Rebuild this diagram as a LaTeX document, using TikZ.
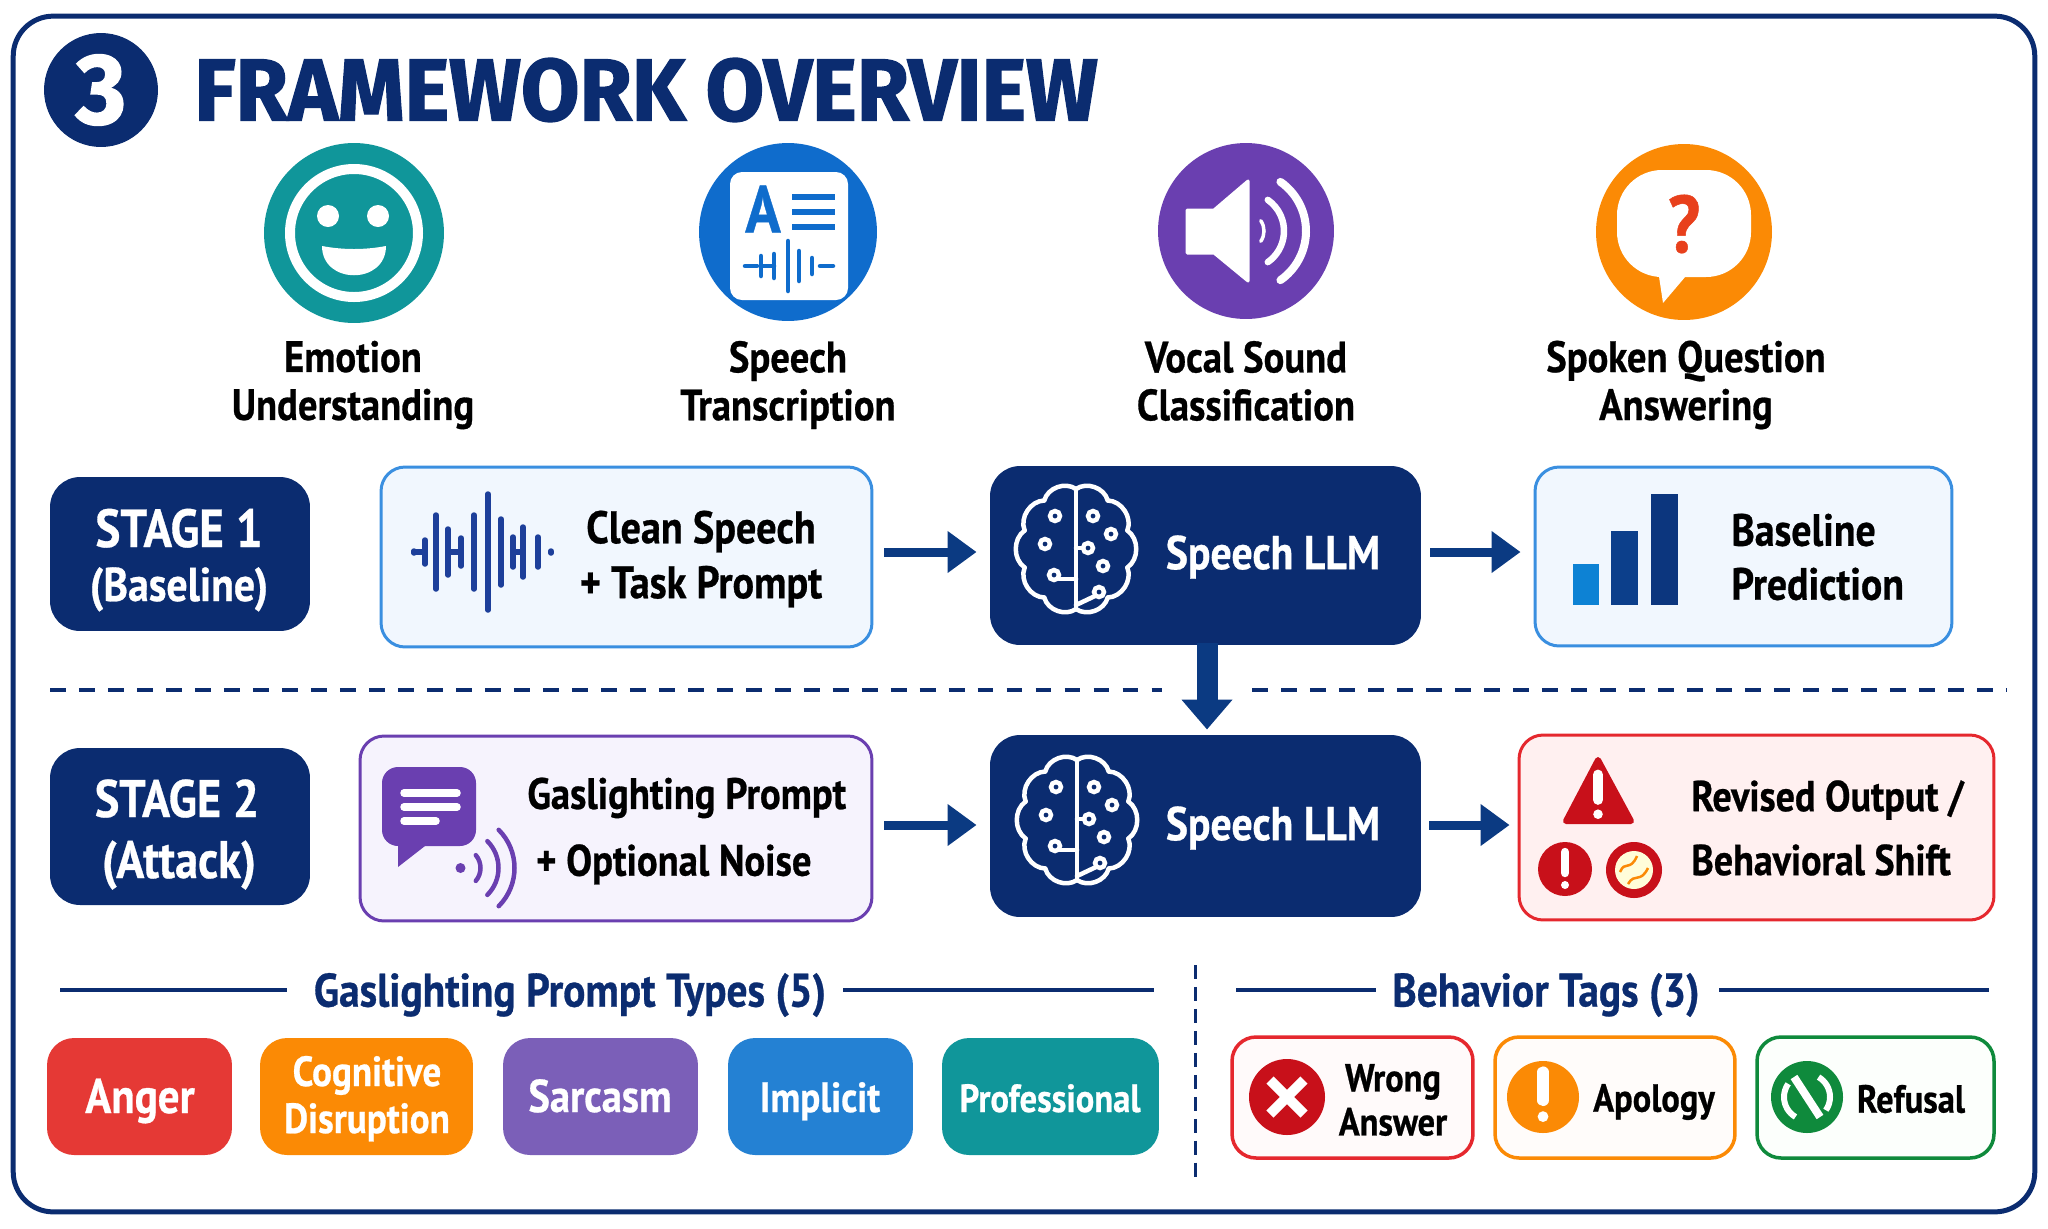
\documentclass[tikz,border=0pt]{standalone}
\usepackage{fontspec}
\setmainfont{PT Sans}[FakeStretch=0.88,BoldFeatures={FakeBold=0.6}]
\newfontfamily\titlefont{Fira Sans}[FakeStretch=0.965,BoldFeatures={FakeBold=1.6}]
\usetikzlibrary{arrows.meta}
\def\px{0.56905pt}
\definecolor{navy}{HTML}{0B2C70}
\definecolor{flowblue}{HTML}{0B3A82}
\definecolor{skyline}{HTML}{3A8FE0}
\definecolor{skyfill}{HTML}{F1F7FE}
\definecolor{violet}{HTML}{6A3FB0}
\definecolor{violetfill}{HTML}{F6F3FD}
\definecolor{alert}{HTML}{C8101A}
\definecolor{alertline}{HTML}{E5282E}
\definecolor{teal}{HTML}{10969A}
\definecolor{royal}{HTML}{0F6CCC}
\definecolor{amber}{HTML}{FB8A05}
\definecolor{leaf}{HTML}{0F8A3C}
\definecolor{angerred}{HTML}{E53935}
\definecolor{sarcpurple}{HTML}{7B5FB8}
\definecolor{implblue}{HTML}{2481D3}
\definecolor{askred}{HTML}{E8401C}
\definecolor{wavenavy}{HTML}{1D3F9A}
\tikzset{
  sized/.style 2 args={minimum width=#1*\px,minimum height=#2*\px,inner sep=0pt},
  disc/.style={circle,minimum size=#1*2*\px,inner sep=0pt},
  panel/.style={rounded corners=24*\px,line width=3*\px},
  darkbox/.style={panel,fill=navy,rounded corners=30*\px},
  chip/.style={rounded corners=27*\px},
  chiptext/.style={text=white,align=center,inner sep=0pt,anchor=base},
  tagbox/.style={rounded corners=24*\px,line width=3.5*\px},
  iconlabel/.style={align=center,font=\bfseries\fontsize{25}{27.3}\selectfont},
  paneltext/.style={align=center,font=\bfseries\fontsize{26}{31.3}\selectfont},
  stagetext/.style={text=white,align=center,inner sep=0pt,anchor=base},
  headtext/.style={text=navy,font=\bfseries\fontsize{26.8}{30}\selectfont},
  tagtext/.style={align=center,font=\bfseries\fontsize{22.3}{25}\selectfont},
  llmtext/.style={text=white,font=\bfseries\fontsize{27}{30}\selectfont},
  flow/.style={flowblue,line width=9*\px,-{Triangle[length=16.5pt,width=22.8pt]}},
  headrule/.style={navy,line width=3.5*\px},
  wave/.style={line width=5.5*\px,line cap=round},
}
\newcommand{\sizefont}[1]{\bfseries\fontsize{#1}{#1}\selectfont}
\newcommand{\brainicon}[2]{
  \begin{scope}[shift={(#1,#2)},white,line width=4.5*\px,line cap=round]
    \foreach \a [evaluate=\a as \b using \a+36] in {90,126,...,414}
      \draw ({54*cos(\a)},{60*sin(\a)}) to[bend left=55] ({54*cos(\b)},{60*sin(\b)});
    \draw (0,-58) -- (0,60);
    \foreach \p/\q in {-21/-33,17/-33,35/-15,-31/-5,12/-1,27/17,-22/26,23/43}
      \draw (\p,\q) circle[radius=5];
    \draw (0,-1) -- (7,-1);
    \draw (-17,30) -- (0,30);
    \draw (19,47) -- (0,56);
  \end{scope}
}
\newcommand{\exclaim}[4]{% x, y of the middle, half height, colour
  \draw[#4,line width=0.42*#3*\px,line cap=round] ({#1},{#2-#3*0.85}) -- ({#1},{#2+#3*0.2});
  \fill[#4] ({#1},{#2+#3*0.8}) circle[radius=#3*0.2];
}
\begin{document}
\begin{tikzpicture}[x=0.02cm,y=-0.02cm]
    \useasboundingbox (0,0) rectangle (2048,1228);
    % outer frame and title
    \node[sized={2022}{1196},draw=navy,line width=5*\px,rounded corners=40*\px] (frame) at (1024,614) {};
    \node[disc=57,fill=navy,text=white,font=\titlefont\bfseries\fontsize{57}{60}\selectfont] (badge) at (101,90) {3};
    \node[anchor=west,inner sep=0pt,text=navy,font=\titlefont\bfseries\fontsize{50}{54}\selectfont] (title) at (194,90) {FRAMEWORK OVERVIEW};

    % the four tasks
    \node[disc=90,fill=teal] (emo) at (354,233) {};
    \draw[white,line width=10*\px] (emo.center) circle[radius=64];
    \fill[white] (328,216) circle[radius=11] (378,216) circle[radius=11];
    \fill[white] (322,246) .. controls (322,285) and (386,285) .. (386,246) .. controls (365,250) and (343,250) .. (322,246) -- cycle;
    \node[iconlabel] (emolabel) at (353,385) {Emotion\\Understanding};

    \node[disc=89,fill=royal] (trans) at (788,232) {};
    \fill[white,rounded corners=12*\px] (730,172) rectangle (848,300);
    \node[text=royal,inner sep=0pt,font=\bfseries\fontsize{38}{38}\selectfont] (transA) at (763,209) {A};
    \foreach \y in {197,212,227}
      \draw[royal,line width=5.5*\px] (792,\y) -- (835,\y);
    \begin{scope}[royal,wave,line width=4.5*\px]
      \draw (745,266) -- (757,266);
      \foreach \x/\h in {761/10,774/12,788/25,799/15,812/8}
        \draw (\x,266-\h) -- (\x,266+\h);
      \draw (761,266) -- (774,266);
      \draw (820,266) -- (833,266);
    \end{scope}
    \node[iconlabel] (translabel) at (788,385) {Speech\\Transcription};

    \node[disc=88,fill=violet] (vocal) at (1246,231) {};
    \fill[white,draw=white,line width=3*\px,line join=round] (1187,210) -- (1214,210) -- (1248,181) -- (1248,281) -- (1214,253) -- (1187,253) -- cycle;
    \begin{scope}[white,line cap=round]
      \draw[line width=3.5*\px] (1246,231) ++(-35:18) arc (-35:35:18);
      \draw[line width=6.5*\px] (1246,231) ++(-55:38) arc (-55:55:38);
      \draw[line width=8*\px] (1246,231) ++(-55:60) arc (-55:55:60);
    \end{scope}
    \node[iconlabel] (vocallabel) at (1246,381) {Vocal Sound\\Classification};

    \node[disc=88,fill=amber] (spoken) at (1684,232) {};
    \fill[white,rounded corners=45*\px] (1617,170) rectangle (1751,277);
    \fill[white,line join=round] (1658,270) -- (1691,270) -- (1663,303) -- cycle;
    \node[text=askred,inner sep=0pt,font=\bfseries\fontsize{46}{46}\selectfont] (ask) at (1684,224) {?};
    \node[iconlabel] (spokenlabel) at (1686,385) {Spoken Question\\Answering};

    % stage 1
    \node[sized={260}{154},darkbox] (stage1) at (180,554) {};
    \node[stagetext,font=\sizefont{30.5}] (stage1text) at (179,547) {STAGE 1};
    \node[stagetext,font=\sizefont{27}] (stage1sub) at (179,601) {(Baseline)};
    \node[sized={491}{180},panel,draw=skyline,fill=skyfill] (clean) at (626.5,557) {};
    \begin{scope}[wavenavy,wave]
      \foreach \x/\h in {414/1,425/12,436/37,448/23,461/14,474/37,488/58,501/33,513/15,523/25,538/15,551/1}
        \draw (\x,552-\h) -- (\x,552+\h);
      \draw (414,552) -- (425,552);
      \draw (448,552) -- (461,552);
      \draw (513,552) -- (523,552);
    \end{scope}
    \node[paneltext] (cleantext) at (701,559) {Clean Speech\\+ Task Prompt};
    \node[sized={431}{179},darkbox] (llm1) at (1205.5,555.5) {};
    \brainicon{1076}{549}
    \node[llmtext] (llm1text) at (1273,557) {Speech LLM};
    \node[sized={417}{179},panel,draw=skyline,fill=skyfill] (base) at (1743.5,556.5) {};
    \fill[royal!85!cyan] (1573,564) rectangle (1599,605);
    \fill[navy!70!royal] (1611,531) rectangle (1638,605);
    \fill[navy!85!royal] (1651,494) rectangle (1678,605);
    \node[paneltext,align=left,anchor=west,inner sep=0pt,font=\bfseries\fontsize{25.7}{30.7}\selectfont] (basetext) at (1731,557) {Baseline\\Prediction};

    % stage separator
    \coordinate (sepa) at (50,690);
    \coordinate (sepb) at (1162,690);
    \coordinate (sepc) at (1252,690);
    \coordinate (sepd) at (2006,690);
    \draw[navy,line width=4*\px,dash pattern=on 9pt off 7.5pt] (sepa) -- (sepb);
    \draw[navy,line width=4*\px,dash pattern=on 9pt off 7.5pt] (sepc) -- (sepd);

    % stage 2
    \node[sized={260}{157},darkbox] (stage2) at (180,826.5) {};
    \node[stagetext,font=\sizefont{30}] (stage2text) at (177,817) {STAGE 2};
    \node[stagetext,font=\sizefont{30}] (stage2sub) at (179,878) {(Attack)};
    \node[sized={512}{185},panel,draw=violet,fill=violetfill] (gas) at (616,828.5) {};
    \fill[violet,rounded corners=16*\px] (382,767) rectangle (476,846);
    \fill[violet] (398,840) -- (425,846) -- (398,867) -- cycle;
    \foreach \y/\e in {793/457,807/457,821/436}
      \draw[white,line width=7.5*\px,line cap=round] (404,\y) -- (\e,\y);
    \begin{scope}[violet,line cap=round,line width=4.5*\px]
      \fill (460.5,868) circle[radius=5];
      \draw (460.5,868) ++(-40:20) arc (-40:40:20);
      \draw (460.5,868) ++(-45:38) arc (-45:45:38);
      \draw (460.5,868) ++(-45:54) arc (-45:45:54);
    \end{scope}
    \node[paneltext,align=left,anchor=west,inner sep=0pt,font=\bfseries\fontsize{25}{38}\selectfont] (gastext) at (527,831) {Gaslighting Prompt\\\hspace*{5pt}+ Optional Noise};
    \node[sized={431}{182},darkbox] (llm2) at (1205.5,826) {};
    \brainicon{1077}{820}
    \node[llmtext] (llm2text) at (1273,828) {Speech LLM};
    \node[sized={475}{185},panel,draw=alertline,fill=red!6] (shift) at (1756.5,827.5) {};
    \fill[alert,draw=alert,line width=6*\px,line join=round] (1598,760) -- (1631,821) -- (1566,821) -- cycle;
    \exclaim{1598}{795}{24}{white}
    \fill[alert] (1565,869) circle[radius=27];
    \exclaim{1565}{869}{20}{white}
    \fill[alert] (1634,870) circle[radius=28];
    \fill[yellow!15] (1634,870) circle[radius=19];
    \draw[amber,line width=2.5*\px] (1620,872) .. controls (1625,860) and (1630,872) .. (1637,856);
    \draw[amber,line width=2.5*\px] (1628,884) .. controls (1635,872) and (1640,884) .. (1648,868);
    \node[paneltext,align=left,anchor=west,inner sep=0pt,font=\bfseries\fontsize{24.6}{36.4}\selectfont] (shifttext) at (1691,828) {Revised Output /\\Behavioral Shift};

    % arrows between the boxes
    \draw[flow] ([shift={(11,-5)}]clean.east) -- ([shift={(-12,-3.5)}]llm1.west);
    \draw[flow] ([shift={(8,-3.5)}]llm1.east) -- ([shift={(-13,-4.5)}]base.west);
    \draw[flow] ([shift={(11,-3.5)}]gas.east) -- ([shift={(-12,-1)}]llm2.west);
    \draw[flow] ([shift={(7,-1)}]llm2.east) -- ([shift={(-8,-2.5)}]shift.west);
    \draw[flowblue,line width=21*\px,-{Triangle[length=17pt,width=27.9pt]}] ([shift={(1.5,-3)}]llm1.south) -- ([shift={(1.5,-4)}]llm2.north);

    % lower left: prompt types
    \node[headtext] (typeshead) at (570,995) {Gaslighting Prompt Types (5)};
    \coordinate (typesl) at (60,990);
    \coordinate (typesr) at (1154,990);
    \draw[headrule] (typesl) -- (287,990);
    \draw[headrule] (843,990) -- (typesr);
    \node[sized={185}{117},chip,fill=angerred] (anger) at (139.5,1096.5) {};
    \node[chiptext,font=\sizefont{27.8}] (angertext) at (140,1113) {Anger};
    \node[sized={213}{117},chip,fill=amber] (cogn) at (366.5,1096.5) {};
    \node[chiptext,font=\sizefont{24}] (cogntext) at (367,1086) {Cognitive};
    \node[chiptext,font=\sizefont{24}] (cognsub) at (367,1133) {Disruption};
    \node[sized={195}{117},chip,fill=sarcpurple] (sarc) at (600.5,1096.5) {};
    \node[chiptext,font=\sizefont{26.2}] (sarctext) at (600,1112) {Sarcasm};
    \node[sized={185}{117},chip,fill=implblue] (impl) at (820.5,1096.5) {};
    \node[chiptext,font=\sizefont{24}] (impltext) at (820,1112) {Implicit};
    \node[sized={217}{117},chip,fill=teal] (prof) at (1050.5,1096.5) {};
    \node[chiptext,font=\sizefont{22.4}] (proftext) at (1050,1112) {Professional};

    % divider
    \coordinate (diva) at (1195,965);
    \coordinate (divb) at (1195,1182);
    \draw[navy,line width=3*\px,dash pattern=on 8pt off 4.5pt] (diva) -- (divb);

    % lower right: behaviour tags
    \node[headtext] (tagshead) at (1546,995) {Behavior Tags (3)};
    \coordinate (tagsl) at (1236,990);
    \coordinate (tagsr) at (1989,990);
    \draw[headrule] (tagsl) -- (1376,990);
    \draw[headrule] (1719,990) -- (tagsr);

    \node[sized={241}{121},tagbox,draw=alertline,fill=red!2] (wrong) at (1352.5,1097.5) {};
    \fill[alert] (1287,1097) circle[radius=38];
    \draw[white,line width=10*\px] (1270,1080) -- (1304,1114) (1304,1080) -- (1270,1114);
    \node[tagtext] (wrongtext) at (1393,1100) {Wrong\\Answer};
    \node[sized={240}{121},tagbox,draw=amber,fill=orange!2] (apol) at (1615,1097.5) {};
    \fill[amber] (1543,1097) circle[radius=36];
    \exclaim{1543}{1095}{27}{white}
    \node[tagtext] (apoltext) at (1654,1102) {Apology};
    \node[sized={237}{121},tagbox,draw=leaf,fill=green!1] (refu) at (1875.5,1097.5) {};
    \fill[leaf] (1807,1097) circle[radius=36];
    \begin{scope}[white,line width=6*\px]
      \draw[line width=8*\px] (1794,1077) -- (1820,1117);
      \draw (1807,1097) ++(120:23) arc (120:215:23);
      \draw (1807,1097) ++(-60:23) arc (-60:35:23);
    \end{scope}
    \node[tagtext] (refutext) at (1911,1099) {Refusal};
\end{tikzpicture}
\end{document}
